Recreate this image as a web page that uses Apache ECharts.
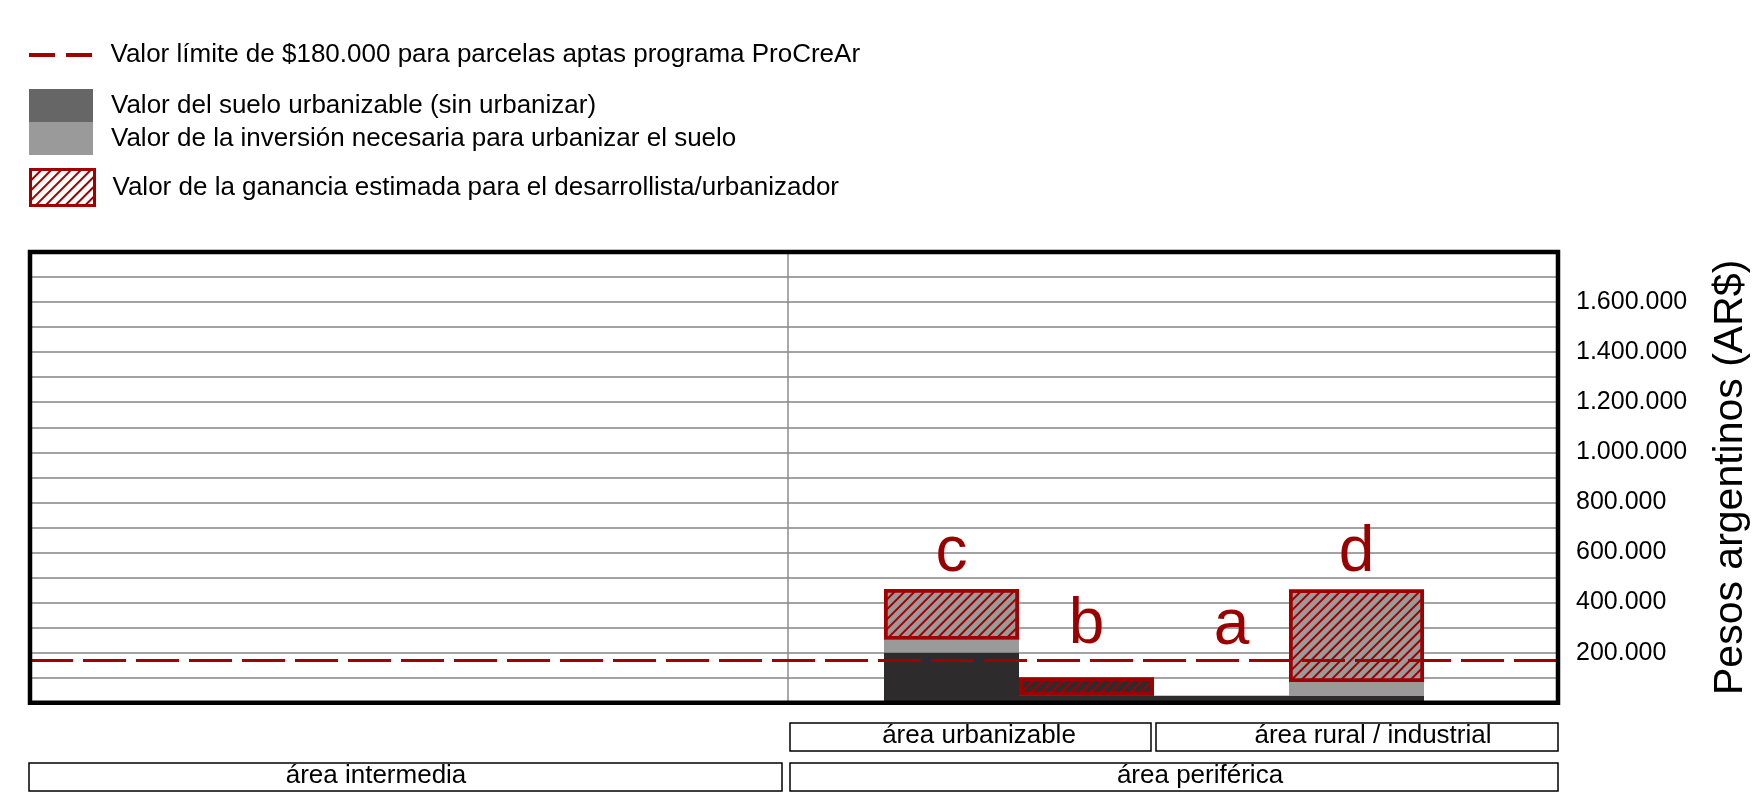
<!DOCTYPE html>
<html><head><meta charset="utf-8">
<script src="https://cdn.jsdelivr.net/npm/echarts@6/dist/echarts.min.js"></script>
<style>html,body{margin:0;padding:0;background:#fff}#c{width:1760px;height:797px}</style>
</head><body><div id="c"></div>
<script>
// ---- data ----
const categories = ['c', 'b', 'a', 'd'];
const landValue = [200000, 28000, 28000, 27000];
const investmentValue = [52000, 0, 0, 56000];
const profitValue = [202000, 73000, 0, 369000];
const limitValue = 170000;
const yTicks = [200000, 400000, 600000, 800000, 1000000, 1200000, 1400000, 1600000];
const yTickLabels = ['200.000', '400.000', '600.000', '800.000', '1.000.000', '1.200.000', '1.400.000', '1.600.000'];
const zoneRow1 = ['área urbanizable', 'área rural / industrial'];
const zoneRow2 = ['área intermedia', 'área periférica'];
const limitName = 'Valor límite de $180.000 para parcelas aptas programa ProCreAr';
const landName = 'Valor del suelo urbanizable (sin urbanizar)';
const investmentName = 'Valor de la inversión necesaria para urbanizar el suelo';
const profitName = 'Valor de la ganancia estimada para el desarrollista/urbanizador';
const yName = 'Pesos argentinos (AR$)';

// ---- styles ----
const FONT = "'Liberation Sans', Arial, sans-serif";
const RED = '#a00000';
const TXTRED = '#990000';
const DARK = '#2d2b2b';
const GRAY = '#9a9a9a';
const labelDistance = [4, 20, 37, 4];
const labelOffsetX = [0, 0, 10, 0];
const hatch = { symbol: 'rect', symbolSize: 1, dashArrayX: [1, 0], dashArrayY: [2, 5], rotation: -Math.PI / 4, color: RED };

const tickMap = {};
yTicks.forEach((v, i) => { tickMap[v] = yTickLabels[i]; });

function topIndex(i) {
  if (profitValue[i] > 0) return 2;
  if (investmentValue[i] > 0) return 1;
  return 0;
}
function mkData(arr, sIdx) {
  return arr.map((v, i) => {
    const item = { value: v > 0 ? v : '-' };
    if (sIdx === 2) {
      item.itemStyle = { color: investmentValue[i] > 0 ? GRAY : DARK };
    }
    if (topIndex(i) === sIdx) {
      item.label = {
        show: true, position: 'top', distance: labelDistance[i], offset: [labelOffsetX[i], 0],
        formatter: categories[i], fontSize: 64, color: TXTRED, fontFamily: FONT
      };
    }
    return item;
  });
}

const legendText = { fontSize: 26, fontFamily: FONT, color: '#000', padding: [0, 0, 0, 13] };
const zoneText = { fontSize: 26, fontFamily: FONT, fill: '#000', align: 'center', verticalAlign: 'middle' };

const chart = echarts.init(document.getElementById('c'), null, { renderer: 'canvas' });
const YMAX = 1800000;
const TOP = 252, BOTTOM = 797 - 702.7;

chart.setOption({
  animation: false,
  backgroundColor: '#fff',
  grid: [
    { left: 30, right: 1760 - 1558, top: TOP, bottom: BOTTOM, show: false },
    { left: 884, right: 1760 - 1424, top: TOP, bottom: BOTTOM }
  ],
  xAxis: [
    { gridIndex: 0, type: 'value', min: 0, max: 1, show: false },
    { gridIndex: 1, type: 'category', data: categories, show: false }
  ],
  yAxis: [
    {
      gridIndex: 0, type: 'value', position: 'right', min: 0, max: YMAX, interval: 100000,
      axisLine: { show: false }, axisTick: { show: false },
      splitLine: { show: true, lineStyle: { color: '#a3a3a3', width: 2 } },
      axisLabel: {
        margin: 18, fontSize: 25, fontFamily: FONT, color: '#000', align: 'left',
        formatter: v => tickMap[v] || ''
      },
      name: yName, nameLocation: 'middle', nameRotate: 90, nameGap: 152,
      nameTextStyle: { fontSize: 41, fontFamily: FONT, color: '#000' }
    },
    { gridIndex: 1, type: 'value', min: 0, max: YMAX, show: false }
  ],
  legend: [
    {
      data: [{ name: limitName, icon: 'path://M0,0h26v4h-26z M37,0h26v4h-26z', itemStyle: { color: RED } }],
      left: 29, top: 40, padding: 0, itemWidth: 64, itemHeight: 4,
      selectedMode: false, textStyle: Object.assign({ lineHeight: 30 }, legendText)
    },
    {
      data: [{ name: landName, icon: 'rect', itemStyle: { color: '#666666' } },
             { name: investmentName, icon: 'rect', itemStyle: { color: '#9a9a9a' } }],
      orient: 'vertical', left: 29, top: 89, padding: 0, itemWidth: 64, itemHeight: 33, itemGap: 0,
      selectedMode: false, textStyle: Object.assign({}, legendText, { lineHeight: 27, padding: [6, 0, 0, 13] })
    },
    {
      data: [{ name: profitName, icon: 'rect', itemStyle: { color: '#ffffff', borderColor: RED, borderWidth: 3, decal: hatch } }],
      left: 29, top: 168, padding: 0, itemWidth: 64, itemHeight: 36,
      selectedMode: false, textStyle: Object.assign({ lineHeight: 36 }, legendText)
    }
  ],
  series: [
    {
      name: limitName, type: 'line', xAxisIndex: 0, yAxisIndex: 0, data: [], symbol: 'none',
      lineStyle: { color: RED, width: 4, type: [26, 11] }, itemStyle: { color: RED },
      markLine: {
        silent: true, symbol: 'none', label: { show: false },
        lineStyle: { color: RED, width: 3, type: [43, 10] },
        data: [{ yAxis: limitValue }]
      }, z: 5
    },
    {
      name: landName, type: 'bar', xAxisIndex: 1, yAxisIndex: 1, stack: 'v', barCategoryGap: '0%',
      itemStyle: { color: DARK }, data: mkData(landValue, 0)
    },
    {
      name: investmentName, type: 'bar', xAxisIndex: 1, yAxisIndex: 1, stack: 'v', barCategoryGap: '0%',
      itemStyle: { color: GRAY }, data: mkData(investmentValue, 1)
    },
    {
      name: profitName, type: 'bar', xAxisIndex: 1, yAxisIndex: 1, stack: 'v', barCategoryGap: '0%',
      itemStyle: { color: GRAY, borderColor: RED, borderWidth: 3.5, decal: hatch },
      data: mkData(profitValue, 2), z: 3
    }
  ],
  graphic: [
    { type: 'line', z: 1, shape: { x1: 788, y1: 254, x2: 788, y2: 701 }, style: { stroke: '#8c8c8c', lineWidth: 1.5 } },
    { type: 'rect', z: 100, shape: { x: 30, y: 252, width: 1528, height: 450.7 }, style: { fill: 'none', stroke: '#000', lineWidth: 4.5 } },
    { type: 'rect', shape: { x: 790, y: 723, width: 361, height: 28 }, style: { fill: '#fff', stroke: '#000', lineWidth: 1.5 } },
    { type: 'rect', shape: { x: 1156, y: 723, width: 402, height: 28 }, style: { fill: '#fff', stroke: '#000', lineWidth: 1.5 } },
    { type: 'rect', shape: { x: 29, y: 763, width: 753, height: 28 }, style: { fill: '#fff', stroke: '#000', lineWidth: 1.5 } },
    { type: 'rect', shape: { x: 790, y: 763, width: 768, height: 28 }, style: { fill: '#fff', stroke: '#000', lineWidth: 1.5 } },
    { type: 'text', style: Object.assign({ x: 979, y: 736, text: zoneRow1[0] }, zoneText) },
    { type: 'text', style: Object.assign({ x: 1373, y: 736, text: zoneRow1[1] }, zoneText) },
    { type: 'text', style: Object.assign({ x: 376, y: 776, text: zoneRow2[0] }, zoneText) },
    { type: 'text', style: Object.assign({ x: 1200, y: 776, text: zoneRow2[1] }, zoneText) }
  ]
});
</script></body></html>
